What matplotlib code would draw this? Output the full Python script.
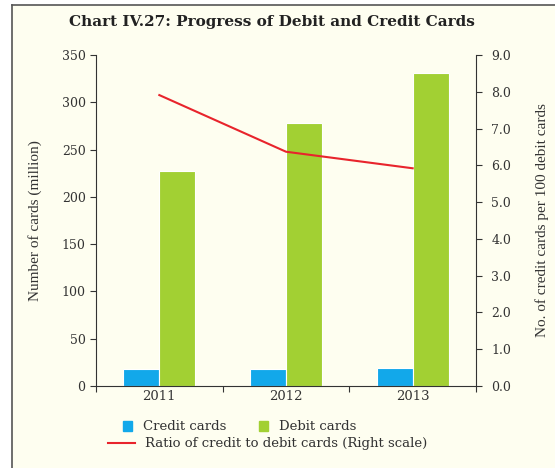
import numpy as np
import matplotlib
matplotlib.use("Agg")
import matplotlib.pyplot as plt
from matplotlib.lines import Line2D
from matplotlib.patches import Patch

years = ["2011", "2012", "2013"]
credit_cards = [17.6, 17.6, 19.5]
debit_cards = [227, 278, 331]
ratio = [7.91, 6.37, 5.92]

bg = "#fefef0"
ink = "#333333"
blue = "#12a8ea"
green = "#a2d033"
red = "#e8242c"
serif = ["DejaVu Serif", "Liberation Serif"]

fig = plt.figure(figsize=(5.55, 4.68), dpi=100, facecolor="white")
fig.patches.append(plt.Rectangle((12 / 555, 0), 1, 1 - 5 / 468, transform=fig.transFigure,
                                 facecolor=bg, edgecolor="none", zorder=-10))
fig.add_artist(Line2D([12 / 555, 12 / 555], [0, 1 - 5 / 468], color="#555555", lw=1.2))
fig.add_artist(Line2D([12 / 555, 1], [1 - 5 / 468, 1 - 5 / 468], color="#555555", lw=1.2))

ax = fig.add_axes([96 / 555, 82 / 468, 380 / 555, 331 / 468])
ax.set_facecolor("none")
x = np.arange(len(years))
w = 0.285
ax.bar(x - w / 2, credit_cards, w, color=blue, edgecolor="white", linewidth=0.8, label="Credit cards")
ax.bar(x + w / 2, debit_cards, w, color=green, edgecolor="white", linewidth=0.8, label="Debit cards")
ax.set_xlim(-0.5, 2.5)
ax.set_ylim(0, 350)
ax.set_yticks(range(0, 351, 50))

ax.set_xticks([-0.5, 0.5, 1.5, 2.5])
ax.set_xticklabels([])
ax.set_xticks(x, minor=True)
ax.set_xticklabels(years, minor=True, family=serif, fontsize=9.5, color=ink)
ax.tick_params(axis="x", which="major", length=4, direction="out", color=ink)
ax.tick_params(axis="x", which="minor", length=0, pad=3)
ax.tick_params(axis="y", length=4, color=ink, labelcolor=ink, labelsize=9)
for t in ax.get_yticklabels():
    t.set_family(serif)
for s in ["top", "right"]:
    ax.spines[s].set_visible(False)
for s in ["left", "bottom"]:
    ax.spines[s].set_color(ink)
ax.set_ylabel("Number of cards (million)", family="Liberation Serif", fontsize=11, color=ink, labelpad=14)

ax2 = ax.twinx()
ax2.plot(x, ratio, color=red, lw=1.5, label="Ratio of credit to debit cards (Right scale)")
ax2.set_ylim(0, 9)
ax2.set_yticks(np.arange(0, 9.1, 1))
ax2.set_yticklabels([f"{v:.1f}" for v in np.arange(0, 9.1, 1)], family=serif)
ax2.tick_params(axis="y", length=4, color=ink, labelcolor=ink, labelsize=9, pad=7)
for s in ["top", "left", "bottom"]:
    ax2.spines[s].set_visible(False)
ax2.spines["right"].set_color(ink)
ax2.set_ylabel("No. of credit cards per 100 debit cards", family="Liberation Serif", fontsize=11,
               color=ink, labelpad=17)

fig.text(0.49, 1 - 22 / 468, "Chart IV.27: Progress of Debit and Credit Cards", ha="center", va="center",
         family=serif, fontweight="bold", fontsize=11, color="#222222")

h1 = [Patch(color=blue), Patch(color=green)]
fig.legend(h1, ["Credit cards", "Debit cards"], loc="center", bbox_to_anchor=(0.432, 1 - 427 / 468),
           ncol=2, frameon=False, handlelength=0.7, handleheight=0.7, columnspacing=2.5,
           prop={"family": serif, "size": 9.5}, labelcolor=ink)
h2 = [Line2D([], [], color=red, lw=1.5)]
fig.legend(h2, ["Ratio of credit to debit cards (Right scale)"], loc="center",
           bbox_to_anchor=(0.483, 1 - 444 / 468), frameon=False, handlelength=2.0,
           prop={"family": serif, "size": 9.5}, labelcolor=ink)

fig.savefig("out.png", dpi=100, facecolor="white")
